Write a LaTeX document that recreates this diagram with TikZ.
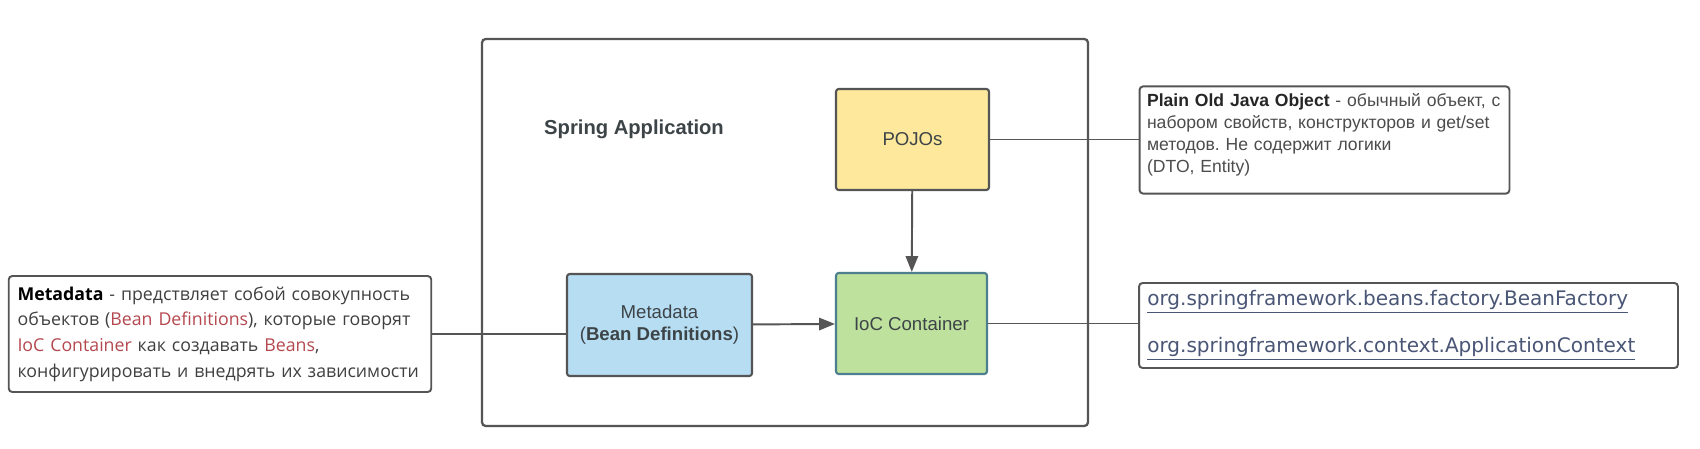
\documentclass[tikz,border=0pt]{standalone}
\usepackage{fontspec}
\setmainfont{Liberation Sans}
\newfontfamily\notefont{Open Sans}
\newfontfamily\codefont{DejaVu Sans}
\usetikzlibrary{arrows.meta,positioning}
\definecolor{linegray}{HTML}{555555}
\definecolor{pojoyellow}{HTML}{FDE89B}
\definecolor{metablue}{HTML}{B7DDF3}
\definecolor{iocgreen}{HTML}{BEE29E}
\definecolor{iocedge}{HTML}{4D7F8F}
\definecolor{notered}{HTML}{B5484F}
\definecolor{linkblue}{HTML}{4A5675}
\definecolor{labeltext}{HTML}{3D4448}
\newcommand{\hl}[1]{\textcolor{notered}{#1}}
\frenchspacing
\begin{document}
\begin{tikzpicture}[x=0.02cm, y=-0.02cm]
\tikzstyle{block} = [rectangle, rounded corners=1.5pt, draw=linegray, line width=1.2pt, align=center, text=labeltext, font=\fontsize{10.6}{12.5}\selectfont]
\tikzstyle{note} = [rectangle, rounded corners=2pt, draw=linegray, line width=1.1pt, fill=white, align=left]
\tikzstyle{link} = [linegray, line width=1.1pt]
\tikzstyle{arrow} = [link, -{Triangle[length=9pt, width=7pt]}]
%
\useasboundingbox[fill=white] (0,0) rectangle (1700,449);
%
\node (app) [rectangle, rounded corners=2pt, draw=linegray, line width=1.3pt, minimum width=12.12cm, minimum height=7.74cm] at (785,232.5) {};
\node (title) at (634,129) {\fontsize{11.5}{14}\selectfont\bfseries\color{labeltext}Spring Application};
%
\node (pojo) [block, fill=pojoyellow, minimum width=3.06cm, minimum height=2.02cm] at (912.5,139.5) {POJOs};
\node (meta) [block, fill=metablue, minimum width=3.7cm, minimum height=2.04cm] at (659.5,325) {Metadata\\(\textbf{Bean Definitions})};
\node (ioc) [block, fill=iocgreen, draw=iocedge, minimum width=3.02cm, minimum height=2.02cm] at (911.5,323.5) {IoC Container};
%
\node (metanote) [note, minimum width=8.44cm, minimum height=2.32cm, text width=8.1cm, inner xsep=5pt, font=\notefont\fontsize{10.1}{14.6}\selectfont, text=black!75] at (220,334)
  {\textbf{\color{black}Metadata} - предствляет собой совокупность\\
   объектов (\hl{Bean Definitions}), которые говорят\\
   \hl{IoC Container} как создавать \hl{Beans},\\
   конфигурировать и внедрять их зависимости};
\node (pojonote) [note, minimum width=7.4cm, text width=7.1cm, inner ysep=4pt, text=black!70, font=\fontsize{10}{12.5}\selectfont] at (1324.5,140)
  {\textbf{\color{black!85}Plain Old Java Object} - обычный объект, с\\
   набором свойств, конструкторов и get/set\\
   методов. Не содержит логики\\
   (DTO, Entity)\par\vspace*{6pt}};
\node (apinote) [note, minimum width=10.78cm, minimum height=1.7cm, text width=10.45cm, text=linkblue, font=\codefont\fontsize{11.4}{27}\selectfont] at (1408.5,325.5)
  {\underline{org.springframework.beans.factory.BeanFactory}\\
   \underline{org.springframework.context.ApplicationContext}};
%
\draw [arrow] (pojo) -- (ioc);
\draw [arrow] (meta) -- (ioc);
\draw [link] (pojo.east) -- (pojonote.west |- pojo.east);
\draw [link] (ioc.east) -- (apinote.west |- ioc.east);
\draw [link] (metanote.east) -- (meta.west |- metanote.east);
\end{tikzpicture}
\end{document}
